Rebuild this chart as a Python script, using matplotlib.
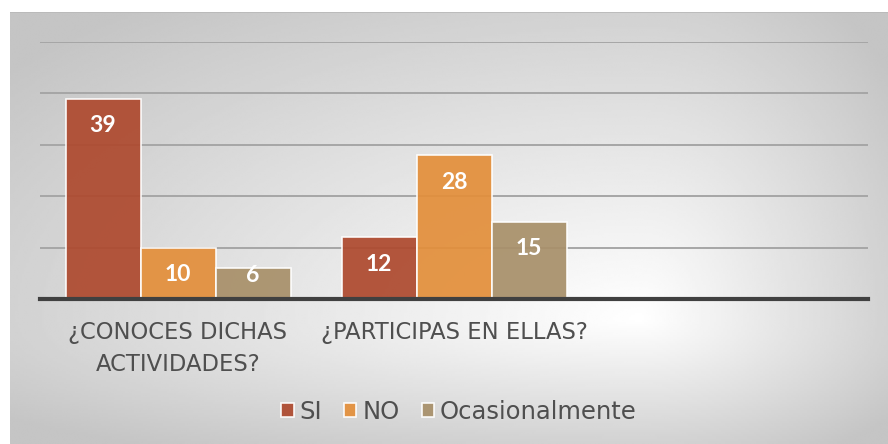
import matplotlib.pyplot as plt
import numpy as np

categories = ["¿CONOCES DICHAS\nACTIVIDADES?", "¿PARTICIPAS EN ELLAS?", ""]
series = ["SI", "NO", "Ocasionalmente"]
si_vals = [39, 12]
no_vals = [10, 28]
ocas_vals = [6, 15]
colors = ["#AE4A2F", "#E38F3B", "#A8906A"]

W, H = 888, 444
fig = plt.figure(figsize=(W / 100, H / 100), dpi=100)
fig.patch.set_facecolor("white")

# gradient backdrop (off-centre path gradient)
bx0, by0 = 10, 12
bg = fig.add_axes([bx0 / W, 0, 1 - bx0 / W, (H - by0) / H], zorder=-5)
xs = np.linspace(bx0, W, 400)
ys = np.linspace(by0, H, 200)
X, Y = np.meshgrid(xs, ys)
cx, cy = 640, 320
u = np.where(X < cx, (cx - X) / (cx - bx0), (X - cx) / (W - cx))
v = np.where(Y < cy, (cy - Y) / (cy - by0), (Y - cy) / (H - cy))
t = np.clip(np.sqrt(u ** 2 + v ** 2) / 1.3, 0, 1)
img = 1 - 0.23 * t
bg.imshow(img, cmap="gray", vmin=0, vmax=1, aspect="auto",
          extent=[0, 1, 0, 1], interpolation="bilinear")
bg.axhline(1, color="#b8b8b8", lw=1.2)
bg.set_xlim(0, 1)
bg.set_ylim(0, 1)
bg.axis("off")

# plot area
L, R, T, B = 40, 868, 42, 299
ax = fig.add_axes([L / W, (H - B) / H, (R - L) / W, (B - T) / H])
ax.set_facecolor("none")
ax.set_xlim(-0.5, 2.5)
ax.set_ylim(0, 50)

width = 75 / 276
x = np.arange(2)
px_per_unit = (B - T) / 50
for k, (name, vals, col) in enumerate(zip(series, [si_vals, no_vals, ocas_vals], colors)):
    xpos = x + (k - 1) * width
    ax.bar(xpos, vals, width, color=col, alpha=0.93, edgecolor=(1, 1, 1, 0.45),
           linewidth=1.2, label=name, zorder=2)
    for xi, v in zip(xpos, vals):
        h = v * px_per_unit
        off = min(27, h - 23)
        ax.text(xi, v - off / px_per_unit, str(v), ha="center", va="center",
                color="white", fontsize=16.5, fontweight="bold",
                family="Lato", zorder=4)

ax.set_yticks([10, 20, 30, 40, 50])
ax.yaxis.grid(True, color="#a6a6a6", linewidth=1.4, zorder=1)
ax.set_axisbelow(True)
ax.tick_params(axis="y", left=False, labelleft=False)
ax.tick_params(axis="x", length=0, pad=16)
ax.set_xticks(np.arange(3))
ax.set_xticklabels(categories, fontsize=16.3, color="#4f4f4f",
                   family="DejaVu Sans", linespacing=1.5)
for s in ["top", "right", "left"]:
    ax.spines[s].set_visible(False)
ax.spines["bottom"].set_color("#404040")
ax.spines["bottom"].set_linewidth(3)
ax.spines["bottom"].set_zorder(5)

leg = ax.legend(loc="center", bbox_to_anchor=(459 / W, 32 / H),
                bbox_transform=fig.transFigure, ncol=3, frameon=False,
                prop={"family": "DejaVu Sans", "size": 17.5}, handlelength=0.5,
                handleheight=0.5, handletextpad=0.25, columnspacing=0.9)
for txt in leg.get_texts():
    txt.set_color("#4f4f4f")

plt.savefig("out.png", dpi=100)
